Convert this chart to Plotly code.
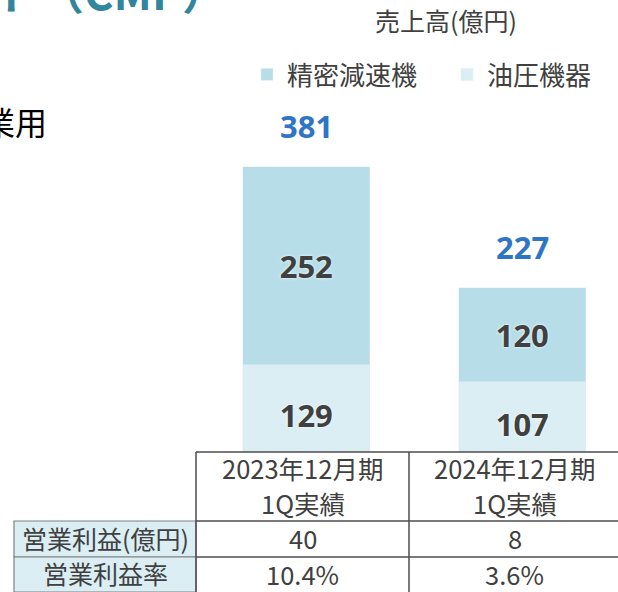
import plotly.graph_objects as go

# ---- data ----
period_line1 = ["2023年12月期", "2024年12月期"]
period_line2 = ["1Q実績", "1Q実績"]
hydraulic = [129, 107]        # 油圧機器
precision = [252, 120]        # 精密減速機
totals = [381, 227]
op_profit = ["40", "8"]
op_margin = ["10.4%", "3.6%"]
row_labels = ["営業利益(億円)", "営業利益率"]
series_names = ["油圧機器", "精密減速機"]

# ---- style ----
W, H = 618, 592
C_PREC = "#B7DEE8"
C_HYD = "#DAEEF3"
C_TXT = "#404040"
C_BLUE = "#2E75C6"
C_TEAL = "#31859C"
CJK = "Noto Sans CJK JP"


def px(x):
    return x / W


def py(y):
    return 1 - y / H


xs = list(range(len(totals)))
label_font = dict(family="Noto Sans", size=31, color=C_TXT, weight="bold",
                  shadow="0px 0px 3px white")

fig = go.Figure()
fig.add_trace(go.Bar(x=xs, y=hydraulic, name=series_names[0], marker_color=C_HYD,
                     width=0.588, text=hydraulic, textposition="inside",
                     insidetextanchor="middle", textfont=label_font,
                     textangle=0, hoverinfo="skip"))
fig.add_trace(go.Bar(x=xs, y=precision, name=series_names[1], marker_color=C_PREC,
                     width=0.588, text=precision, textposition="inside",
                     insidetextanchor="middle", textfont=label_font,
                     textangle=0, hoverinfo="skip"))

annotations = []
for i, t in enumerate(totals):
    annotations.append(dict(x=xs[i], y=t, xref="x", yref="y", text=str(t),
                            showarrow=False, yshift=41, xanchor="center", yanchor="middle",
                            font=dict(family="Noto Sans", size=31, color=C_BLUE,
                                      weight="bold")))

# unit label
annotations.append(dict(x=px(446), y=py(20), xref="paper", yref="paper",
                        text="売上高(億円)", showarrow=False, xanchor="center",
                        yanchor="middle", font=dict(family=CJK, size=25, color=C_TXT)))
# cut-off slide texts
annotations.append(dict(x=px(229), y=py(-10), xref="paper", yref="paper",
                        text="コンポーネントソリューションセグメント（CMP）",
                        showarrow=False, xanchor="right", yanchor="middle",
                        font=dict(family=CJK, size=45, color=C_TEAL, weight="bold")))
annotations.append(dict(x=px(49), y=py(121), xref="paper", yref="paper",
                        text="産業用", showarrow=False, xanchor="right",
                        yanchor="middle", font=dict(family=CJK, size=32, color="#000000")))

# table geometry (pixels)
col_x = [196, 409, 618]
label_x = [14, 196]
row_y = [452, 521, 557, 592]
col_centers = [(col_x[0] + col_x[1]) / 2, (col_x[1] + col_x[2] + 2) / 2]


def cell_text(xc, yc, txt, size=25.5):
    return dict(x=px(xc), y=py(yc), xref="paper", yref="paper", text=txt,
                showarrow=False, xanchor="center", yanchor="middle",
                font=dict(family=CJK, size=size, color=C_TXT))


for i in range(len(period_line1)):
    annotations.append(cell_text(col_centers[i], 467, period_line1[i]))
    annotations.append(cell_text(col_centers[i], 502, period_line2[i]))
    annotations.append(cell_text(col_centers[i], 537.5, op_profit[i]))
    annotations.append(cell_text(col_centers[i], 573, op_margin[i]))
for j, lab in enumerate(row_labels):
    annotations.append(cell_text((label_x[0] + label_x[1]) / 2,
                                 (row_y[j + 1] + row_y[j + 2]) / 2 - 1.5, lab, size=25))

LINE = dict(color="#4D4D4D", width=1.5)
shapes = [
    # cover the bar bases under the table
    dict(type="rect", xref="paper", yref="paper", x0=px(col_x[0]), x1=1.01,
         y0=py(row_y[0]), y1=-0.01, fillcolor="white", line=dict(width=0), layer="above"),
]
for j in range(2):
    shapes.append(dict(type="rect", xref="paper", yref="paper",
                       x0=px(label_x[0]), x1=px(label_x[1]),
                       y0=py(row_y[j + 1]), y1=py(row_y[j + 2]),
                       fillcolor=C_HYD, line=dict(color="#808080", width=1.2),
                       layer="above"))
# horizontal lines
for yy in row_y[:3]:
    shapes.append(dict(type="line", xref="paper", yref="paper", x0=px(col_x[0]), x1=1.01,
                       y0=py(yy), y1=py(yy), line=LINE, layer="above"))
# vertical lines
for xx in col_x[:2]:
    shapes.append(dict(type="line", xref="paper", yref="paper", x0=px(xx), x1=px(xx),
                       y0=py(row_y[0]), y1=-0.01, line=LINE, layer="above"))

fig.update_layout(
    width=W, height=H,
    autosize=False,
    margin=dict(l=0, r=0, t=0, b=0, autoexpand=False),
    paper_bgcolor="white", plot_bgcolor="white",
    barmode="stack",
    bargap=0,
    showlegend=True,
    legend=dict(orientation="h", traceorder="reversed", x=px(247), y=py(74.5),
                xanchor="left", yanchor="middle", font=dict(family=CJK, size=26, color=C_TXT),
                entrywidth=155, entrywidthmode="pixels",
                bgcolor="rgba(0,0,0,0)", itemclick=False, itemdoubleclick=False),
    xaxis=dict(range=[-306.5 / 216, (W - 306.5) / 216], visible=False, domain=[0, 1],
               fixedrange=True),
    yaxis=dict(range=[-(H - 466) / 0.785, 466 / 0.785], visible=False, domain=[0, 1],
               fixedrange=True),
    annotations=annotations,
    shapes=shapes,
)

fig.write_html("out.html", config=dict(displayModeBar=False, responsive=False),
               post_script="document.body.style.margin='0';")
